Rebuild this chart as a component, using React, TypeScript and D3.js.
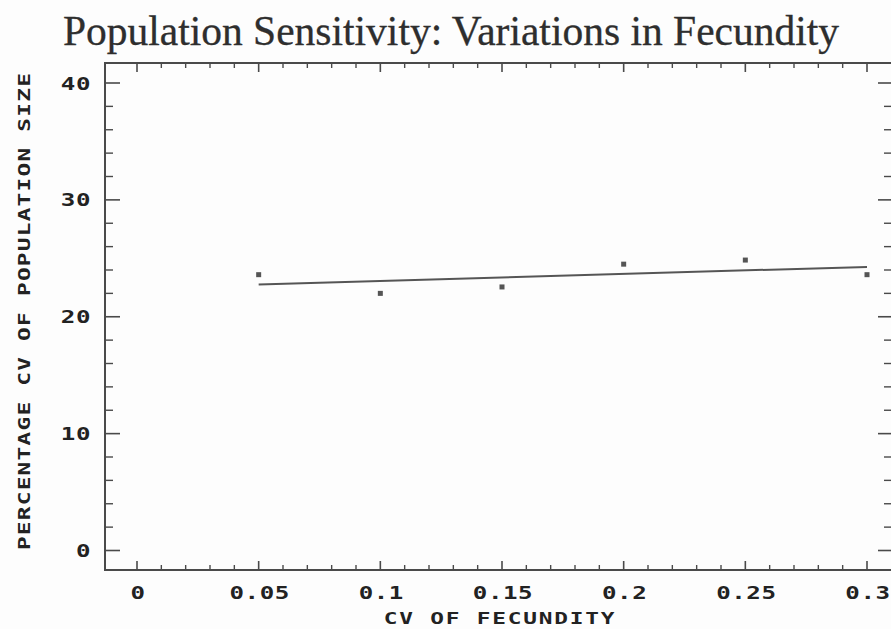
import React from "react";
import * as d3 from "d3";

const cvFecundity = [0.05, 0.1, 0.15, 0.2, 0.25, 0.3];
const cvPopulation = [23.6, 22.0, 22.55, 24.5, 24.85, 23.6];
const xMajorTicks = [0, 0.05, 0.1, 0.15, 0.2, 0.25, 0.3];
const xTickLabels = ["0", "0.05", "0.1", "0.15", "0.2", "0.25", "0.3"];
const yMajorTicks = [0, 10, 20, 30, 40];
const yTickLabels = ["0", "10", "20", "30", "40"];
const title = "Population Sensitivity: Variations in Fecundity";
const xTitle = "CV OF FECUNDITY";
const yTitle = "PERCENTAGE CV OF POPULATION SIZE";

const W = 891;
const H = 629;
const frame = { left: 105, right: 892, top: 63, bottom: 570 };

export default function App() {
  const x = d3.scaleLinear().domain([0, 0.3]).range([137, 867]);
  const y = d3.scaleLinear().domain([0, 40]).range([550.5, 83]);

  const xMinor = d3.range(0, 0.3001, 0.01).filter(
    (v) => !xMajorTicks.some((m) => Math.abs(m - v) < 1e-6)
  );
  const yMinor = d3.range(0, 41, 2).filter((v) => v % 10 !== 0);

  // least-squares fit line
  const mx = d3.mean(cvFecundity) as number;
  const my = d3.mean(cvPopulation) as number;
  const sxy = d3.sum(cvFecundity.map((v, i) => (v - mx) * (cvPopulation[i] - my)));
  const sxx = d3.sum(cvFecundity.map((v) => (v - mx) ** 2));
  const slope = sxy / sxx;
  const icpt = my - slope * mx;
  const x0 = cvFecundity[0];
  const x1 = cvFecundity[cvFecundity.length - 1];
  const fit = d3.line<number>().x((v) => x(v)).y((v) => y(icpt + slope * v));

  const axisColor = "#4a4a4a";
  const monoFont = "'DejaVu Sans Mono', monospace";
  const sx = 1.38;

  return (
    <svg width={W} height={H} style={{ position: "absolute", left: 0, top: 0, background: "#fdfdfd" }}>
      <rect x={0} y={0} width={W} height={H} fill="#fdfdfd" />
      <text
        x={451}
        y={45}
        textAnchor="middle"
        fontFamily="'Liberation Serif', 'Times New Roman', serif"
        fontSize={41.5}
        fill="#2e2e2e"
        stroke="#2e2e2e"
        strokeWidth={0.3}
      >
        {title}
      </text>

      {/* frame */}
      <rect
        x={frame.left}
        y={frame.top}
        width={frame.right - frame.left}
        height={frame.bottom - frame.top}
        fill="none"
        stroke={axisColor}
        strokeWidth={2}
      />

      {/* x ticks bottom & top */}
      {xMajorTicks.map((v) => (
        <g key={"xm" + v}>
          <line x1={x(v)} x2={x(v)} y1={frame.bottom} y2={frame.bottom - 9} stroke={axisColor} strokeWidth={1.6} />
          <line x1={x(v)} x2={x(v)} y1={frame.top} y2={frame.top + 9} stroke={axisColor} strokeWidth={1.6} />
        </g>
      ))}
      {xMinor.map((v) => (
        <g key={"xn" + v}>
          <line x1={x(v)} x2={x(v)} y1={frame.bottom} y2={frame.bottom - 5} stroke={axisColor} strokeWidth={1.4} />
          <line x1={x(v)} x2={x(v)} y1={frame.top} y2={frame.top + 5} stroke={axisColor} strokeWidth={1.4} />
        </g>
      ))}

      {/* y ticks left & right */}
      {yMajorTicks.map((v) => (
        <g key={"ym" + v}>
          <line x1={frame.left} x2={frame.left + 15} y1={y(v)} y2={y(v)} stroke={axisColor} strokeWidth={1.6} />
          <line x1={frame.right} x2={frame.right - 14} y1={y(v)} y2={y(v)} stroke={axisColor} strokeWidth={1.6} />
        </g>
      ))}
      {yMinor.map((v) => (
        <g key={"yn" + v}>
          <line x1={frame.left} x2={frame.left + 8} y1={y(v)} y2={y(v)} stroke={axisColor} strokeWidth={1.4} />
          <line x1={frame.right} x2={frame.right - 8} y1={y(v)} y2={y(v)} stroke={axisColor} strokeWidth={1.4} />
        </g>
      ))}

      {/* x tick labels */}
      {xMajorTicks.map((v, i) => (
        <text
          key={"xl" + v}
          transform={`translate(${x(v) + 1},599) scale(${sx},1)`}
          textAnchor="middle"
          fontFamily={monoFont}
          fontWeight="bold"
          fontSize={17.5}
          letterSpacing={0.4}
          fill="#222"
        >
          {xTickLabels[i]}
        </text>
      ))}

      {/* y tick labels */}
      {yMajorTicks.map((v, i) => (
        <text
          key={"yl" + v}
          transform={`translate(91,${y(v) + 6.5}) scale(${sx},1)`}
          textAnchor="end"
          fontFamily={monoFont}
          fontWeight="bold"
          fontSize={17.5}
          letterSpacing={0.4}
          fill="#222"
        >
          {yTickLabels[i]}
        </text>
      ))}

      {/* axis titles */}
      <text
        transform={`translate(500,624) scale(${sx},1)`}
        textAnchor="middle"
        fontFamily={monoFont}
        fontWeight="bold"
        fontSize={16.5}
        letterSpacing={1.3}
        fill="#222"
      >
        {xTitle}
      </text>
      <text
        transform={`translate(30, 311) rotate(-90) scale(${sx},1)`}
        textAnchor="middle"
        fontFamily={monoFont}
        fontWeight="bold"
        fontSize={16.5}
        letterSpacing={0.9}
        fill="#222"
      >
        {yTitle}
      </text>

      {/* fit line */}
      <path d={fit([x0, x1]) as string} fill="none" stroke="#555" strokeWidth={2} />

      {/* points */}
      {cvFecundity.map((v, i) => (
        <rect
          key={"p" + i}
          x={x(v) - 2.5}
          y={y(cvPopulation[i]) - 2.5}
          width={5}
          height={5}
          fill="#555"
        />
      ))}
    </svg>
  );
}
